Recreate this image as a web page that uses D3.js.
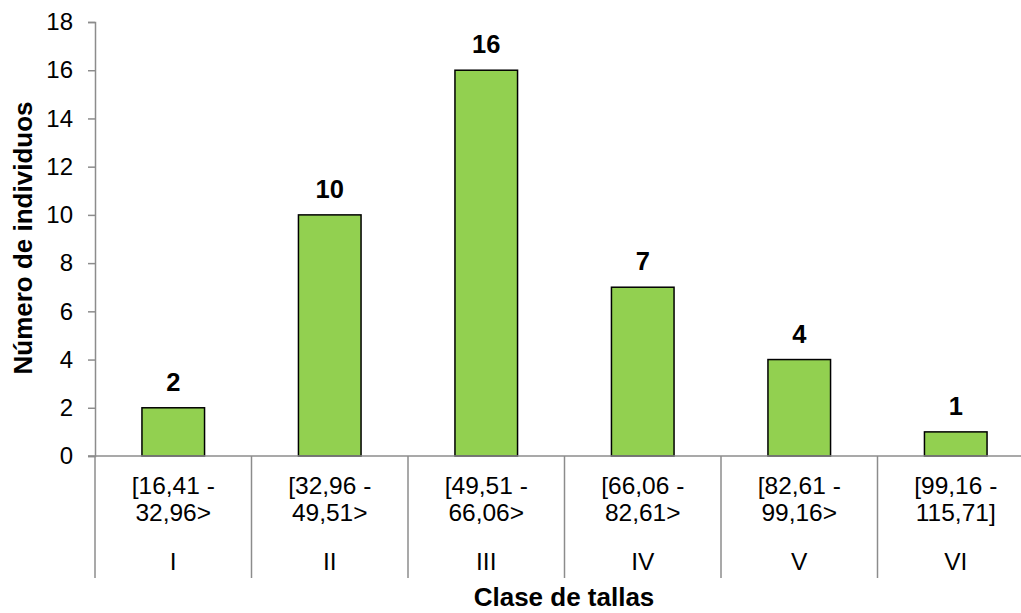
<!DOCTYPE html>
<html>
<head>
<meta charset="utf-8">
<script src="https://cdn.jsdelivr.net/npm/d3@7"></script>
<style>
  html, body { margin: 0; padding: 0; background: #fff; }
  svg { display: block; font-family: "Liberation Sans", Arial, sans-serif; }
</style>
</head>
<body>
<svg id="chart" width="1021" height="613"></svg>
<script>
// Size classes (roman numeral), their length ranges and counts
const classes = ["I", "II", "III", "IV", "V", "VI"];
const rangeLine1 = ["[16,41 -", "[32,96 -", "[49,51 -", "[66,06 -", "[82,61 -", "[99,16 -"];
const rangeLine2 = ["32,96>", "49,51>", "66,06>", "82,61>", "99,16>", "115,71]"];
const counts = [2, 10, 16, 7, 4, 1];
const yTicks = [0, 2, 4, 6, 8, 10, 12, 14, 16, 18];

const svg = d3.select("#chart");
const axisColor = "#8c8c8c";

const x0 = 95, x1 = 1034, yTop = 22, yBase = 456, yBottom = 578;

const x = d3.scaleBand().domain(classes).range([x0, x1]).paddingInner(0.6).paddingOuter(0.3);
const y = d3.scaleLinear().domain([0, 18]).range([yBase, yTop]);

// Y axis
const yAxis = svg.append("g")
  .attr("transform", `translate(${x0},0)`)
  .call(d3.axisLeft(y).tickValues(yTicks).tickSize(7).tickPadding(15));
yAxis.select(".domain").attr("stroke", axisColor).attr("stroke-width", 1.5);
yAxis.selectAll(".tick line").attr("stroke", axisColor).attr("stroke-width", 1.5);
yAxis.selectAll(".tick text")
  .attr("fill", "#000").attr("font-size", 24)
  .attr("font-family", "Liberation Sans, Arial, sans-serif");

// Bars
svg.append("g").selectAll("rect")
  .data(counts)
  .join("rect")
  .attr("x", (d, i) => x(classes[i]))
  .attr("y", d => y(d))
  .attr("width", x.bandwidth())
  .attr("height", d => y(0) - y(d))
  .attr("fill", "#92d050")
  .attr("stroke", "#000")
  .attr("stroke-width", 1.5);

// Value labels
svg.append("g").selectAll("text")
  .data(counts)
  .join("text")
  .attr("x", (d, i) => x(classes[i]) + x.bandwidth() / 2)
  .attr("y", d => y(d) - 17)
  .attr("text-anchor", "middle")
  .attr("font-size", 25.5)
  .attr("font-weight", "bold")
  .text(d => d);

// X baseline
svg.append("line")
  .attr("x1", x0 - 7).attr("x2", x1)
  .attr("y1", yBase).attr("y2", yBase)
  .attr("stroke", axisColor).attr("stroke-width", 1.5);

// Category separators (multi-level axis)
const step = x.step();
const seps = d3.range(classes.length + 1).map(i => x0 + i * step);
svg.append("g").selectAll("line")
  .data(seps)
  .join("line")
  .attr("x1", d => d).attr("x2", d => d)
  .attr("y1", yBase).attr("y2", yBottom)
  .attr("stroke", axisColor).attr("stroke-width", 1.5);

// Category labels
const cat = svg.append("g").attr("font-size", 24.5).attr("text-anchor", "middle");
classes.forEach((c, i) => {
  const cx = x(c) + x.bandwidth() / 2;
  cat.append("text").attr("x", cx).attr("y", 494).text(rangeLine1[i]);
  cat.append("text").attr("x", cx).attr("y", 521).text(rangeLine2[i]);
  cat.append("text").attr("x", cx).attr("y", 570).text(c);
});

// Axis titles
svg.append("text")
  .attr("x", 564).attr("y", 606)
  .attr("text-anchor", "middle")
  .attr("font-size", 26).attr("font-weight", "bold")
  .text("Clase de tallas");

svg.append("text")
  .attr("transform", "translate(32,238) rotate(-90)")
  .attr("text-anchor", "middle")
  .attr("font-size", 26).attr("font-weight", "bold")
  .text("Número de individuos");
</script>
</body>
</html>
